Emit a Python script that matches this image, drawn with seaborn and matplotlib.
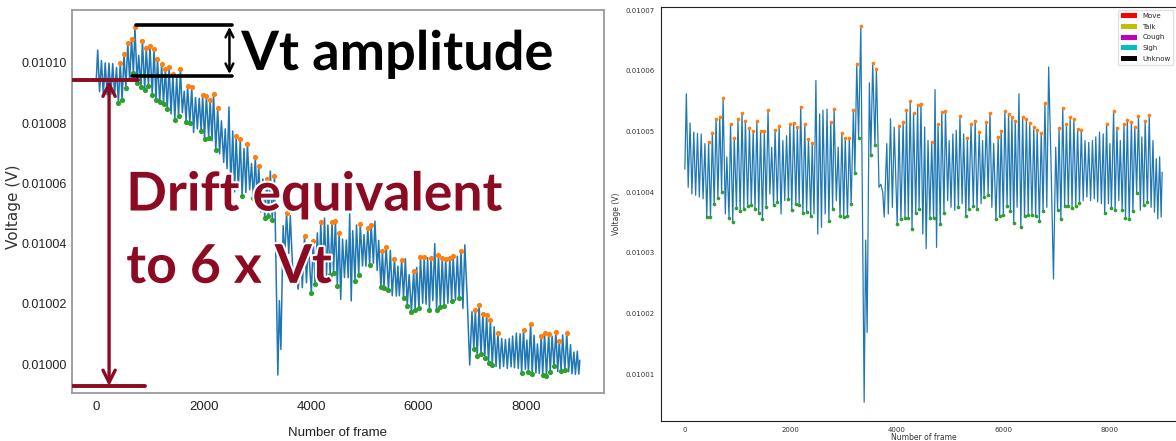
import numpy as np
import pandas as pd
import matplotlib
matplotlib.use("Agg")
import matplotlib.pyplot as plt
import matplotlib.patheffects as pe
from matplotlib.patches import Patch
from matplotlib.ticker import MultipleLocator, FormatStrFormatter
import seaborn as sns

# Turning points of the breathing trace (frame index of each local max / min)
frames = [
    0, 28, 63, 98, 133, 168, 203, 238, 273, 308, 343, 378, 413, 448, 483, 518, 553, 588, 623, 658,
    693, 721, 763, 791, 833, 861, 903, 931, 973, 1001, 1043, 1078, 1113, 1141, 1183, 1218, 1253, 1288, 1323, 1358,
    1393, 1428, 1463, 1498, 1533, 1568, 1603, 1638, 1673, 1701, 1743, 1778, 1813, 1848, 1883, 1918, 1953, 1981, 2016, 2051,
    2093, 2121, 2156, 2184, 2226, 2261, 2296, 2331, 2373, 2401, 2436, 2471, 2506, 2541, 2576, 2604, 2646, 2681, 2716, 2751,
    2786, 2814, 2856, 2891, 2926, 2961, 2996, 3024, 3066, 3101, 3136, 3178, 3206, 3241, 3276, 3318, 3381, 3409, 3437, 3479,
    3507, 3542, 3584, 3612, 3661, 3696, 3731, 3759, 3808, 3836, 3878, 3913, 3948, 4004, 4039, 4074, 4116, 4151, 4179, 4214,
    4249, 4284, 4312, 4354, 4389, 4417, 4452, 4487, 4522, 4550, 4585, 4620, 4655, 4690, 4718, 4746, 4774, 4816, 4844, 4886,
    4914, 4956, 4984, 5019, 5054, 5089, 5117, 5159, 5187, 5229, 5257, 5299, 5327, 5355, 5397, 5439, 5474, 5509, 5551, 5586,
    5614, 5642, 5684, 5719, 5754, 5789, 5824, 5866, 5908, 5936, 5964, 6006, 6034, 6076, 6104, 6139, 6167, 6202, 6230, 6265,
    6300, 6335, 6370, 6405, 6440, 6475, 6503, 6545, 6580, 6615, 6643, 6685, 6720, 6755, 6790, 6825, 6860, 6902, 6951, 6993,
    7028, 7056, 7091, 7126, 7161, 7196, 7231, 7266, 7301, 7336, 7371, 7406, 7441, 7476, 7511, 7546, 7581, 7616, 7651, 7686,
    7721, 7749, 7784, 7819, 7854, 7889, 7917, 7952, 7987, 8015, 8043, 8085, 8113, 8148, 8183, 8211, 8246, 8281, 8309, 8344,
    8379, 8421, 8449, 8484, 8519, 8554, 8589, 8617, 8652, 8680, 8722, 8757, 8792, 8827, 8855, 8890, 8918, 8953, 8981, 9000,
]

# Raw sensor voltage at those frames, in microvolts
raw_uv = [
    10093.8, 10104.3, 10090.5, 10100.8, 10089.6, 10100.0, 10089.4, 10099.9, 10089.5, 10099.8,
    10089.4, 10098.5, 10086.7, 10100.0, 10087.6, 10102.9, 10091.8, 10106.6, 10094.2, 10108.0,
    10096.5, 10111.8, 10093.2, 10102.5, 10092.0, 10107.3, 10091.1, 10105.0, 10092.4, 10105.5,
    10089.4, 10104.5, 10087.8, 10101.3, 10087.0, 10099.5, 10086.4, 10098.1, 10084.8, 10098.7,
    10083.1, 10096.2, 10081.2, 10095.3, 10082.4, 10097.9, 10083.5, 10090.6, 10080.5, 10092.2,
    10079.9, 10091.9, 10076.9, 10088.5, 10078.1, 10088.3, 10077.4, 10089.2, 10074.8, 10088.9,
    10075.2, 10087.7, 10074.1, 10089.6, 10071.1, 10085.0, 10069.8, 10080.8, 10067.0, 10078.1,
    10064.9, 10085.4, 10058.6, 10077.4, 10057.2, 10075.7, 10057.9, 10074.7, 10055.7, 10071.6,
    10057.0, 10073.2, 10057.9, 10066.6, 10055.1, 10068.8, 10053.9, 10065.7, 10050.5, 10061.5,
    10048.6, 10061.6, 10049.2, 10064.1, 10048.0, 10062.4, 9996.4, 10021.1, 10004.9, 10046.0,
    10034.2, 10050.2, 10036.8, 10049.3, 10029.8, 10030.3, 10029.0, 10024.9, 10037.0, 10025.4,
    10042.5, 10027.0, 10040.2, 10023.7, 10040.9, 10026.5, 10043.6, 10028.7, 10047.1, 10029.3,
    10048.5, 10027.2, 10046.2, 10029.6, 10047.3, 10030.3, 10047.6, 10026.1, 10043.7, 10021.5,
    10041.5, 10028.8, 10041.2, 10028.7, 10049.9, 10021.0, 10044.3, 10027.7, 10046.2, 10029.7,
    10046.6, 10032.6, 10043.0, 10032.5, 10045.1, 10033.0, 10046.2, 10033.5, 10047.5, 10031.1,
    10041.1, 10025.5, 10037.5, 10025.3, 10038.9, 10024.7, 10037.8, 10022.7, 10034.9, 10022.6,
    10032.5, 10022.7, 10034.5, 10022.1, 10035.0, 10019.3, 10029.7, 10017.3, 10030.9, 10018.0,
    10032.1, 10018.5, 10035.6, 10020.2, 10035.6, 10019.9, 10035.4, 10018.1, 10035.2, 10021.1,
    10040.0, 10018.1, 10036.4, 10019.0, 10035.1, 10019.2, 10034.9, 10020.2, 10035.2, 10021.0,
    10035.8, 10021.2, 10035.8, 10021.9, 10037.7, 10018.5, 10039.6, 10022.8, 9999.7, 10017.4,
    10005.1, 10018.1, 10002.6, 10019.8, 10003.3, 10016.6, 10002.2, 10016.3, 10000.4, 10014.6,
    9999.7, 10012.4, 9999.2, 10010.3, 9998.6, 10008.5, 9999.2, 10008.2, 9998.6, 10008.5,
    9999.1, 10009.3, 9998.8, 10010.3, 9998.6, 10010.1, 9997.0, 10011.5, 9998.3, 10008.0,
    9997.4, 10013.4, 9996.6, 10009.6, 9997.1, 10006.7, 9996.9, 10009.4, 9996.4, 10010.3,
    9996.2, 10010.1, 9997.4, 10009.3, 9999.5, 10010.6, 9997.5, 10007.6, 9997.6, 10009.7,
    9997.9, 10010.2, 9997.5, 10006.5, 9996.8, 10004.0, 9996.6, 10004.3, 9996.7, 10001.3,
]

# Same trace after baseline-drift removal, in microvolts
detrended_uv = [
    10043.8, 10056.2, 10040.8, 10051.4, 10039.7, 10049.9, 10039.5, 10049.7, 10039.2, 10049.6,
    10038.9, 10048.0, 10035.9, 10048.2, 10035.9, 10049.7, 10038.0, 10052.1, 10039.1, 10052.3,
    10040.1, 10055.5, 10036.4, 10045.8, 10035.8, 10051.3, 10035.1, 10049.0, 10037.4, 10052.0,
    10036.9, 10053.0, 10037.3, 10051.8, 10037.7, 10050.5, 10037.9, 10050.1, 10037.3, 10051.7,
    10036.5, 10050.0, 10035.5, 10050.0, 10037.5, 10053.5, 10039.7, 10047.4, 10037.9, 10050.2,
    10038.4, 10050.9, 10036.4, 10048.5, 10038.6, 10049.3, 10038.9, 10051.2, 10037.1, 10051.4,
    10038.0, 10050.7, 10037.9, 10054.1, 10036.6, 10051.2, 10036.8, 10048.8, 10036.0, 10048.1,
    10036.4, 10058.4, 10033.1, 10052.9, 10034.2, 10053.5, 10036.4, 10053.7, 10035.2, 10051.6,
    10037.3, 10053.7, 10038.6, 10047.4, 10036.0, 10049.8, 10035.9, 10049.0, 10036.0, 10049.0,
    10038.1, 10053.6, 10043.2, 10061.1, 10049.0, 10067.4, 10005.4, 10032.1, 10016.9, 10058.0,
    10046.2, 10061.2, 10047.8, 10060.3, 10040.8, 10041.3, 10040.0, 10035.9, 10048.0, 10036.4,
    10052.1, 10037.5, 10050.7, 10034.7, 10050.9, 10035.5, 10051.6, 10035.7, 10053.6, 10035.8,
    10055.0, 10033.9, 10053.0, 10036.6, 10054.3, 10037.3, 10054.6, 10033.1, 10050.7, 10030.7,
    10048.5, 10035.8, 10048.2, 10035.7, 10056.9, 10030.9, 10051.3, 10034.7, 10053.2, 10036.5,
    10053.4, 10038.6, 10048.5, 10037.5, 10049.6, 10037.0, 10050.2, 10037.5, 10052.5, 10038.1,
    10049.6, 10036.0, 10049.0, 10037.3, 10051.2, 10037.7, 10051.8, 10037.2, 10049.9, 10038.1,
    10048.5, 10039.2, 10051.5, 10039.6, 10053.0, 10037.5, 10048.0, 10035.5, 10049.1, 10036.0,
    10050.1, 10036.3, 10053.4, 10037.7, 10052.9, 10036.9, 10052.4, 10034.9, 10051.8, 10037.5,
    10056.2, 10034.2, 10052.4, 10036.0, 10052.1, 10036.2, 10051.4, 10036.2, 10050.7, 10036.0,
    10050.3, 10035.2, 10049.8, 10036.9, 10054.7, 10037.5, 10060.6, 10045.8, 10025.7, 10047.4,
    10037.1, 10050.6, 10035.6, 10053.8, 10037.8, 10051.2, 10037.7, 10052.3, 10037.4, 10052.1,
    10037.7, 10050.4, 10038.2, 10050.3, 10038.6, 10048.5, 10039.2, 10048.2, 10038.6, 10048.5,
    10038.9, 10049.1, 10038.4, 10049.9, 10038.1, 10049.6, 10036.5, 10051.3, 10038.1, 10048.0,
    10037.4, 10053.4, 10037.1, 10050.6, 10038.6, 10048.5, 10037.1, 10051.2, 10035.8, 10051.9,
    10035.5, 10051.6, 10036.9, 10050.8, 10039.9, 10052.6, 10037.0, 10049.1, 10037.9, 10051.7,
    10038.4, 10052.7, 10037.5, 10048.5, 10036.7, 10045.5, 10035.6, 10045.8, 10035.9, 10043.3,
]

# Detected inhalation peaks / exhalation troughs (frames) on the raw trace
raw_peak_frames = [
    448, 518, 588, 658, 721, 861, 931, 1001, 1078, 1141, 1218, 1288, 1358, 1428, 1568, 1701, 1778,
    1981, 2051, 2121, 2184, 2261, 2604, 2681, 2814, 2961, 3024, 3178, 3318, 3542, 3878, 4039, 4179,
    4389, 4452, 4522, 4914, 5054, 5117, 5327, 5397, 5551, 5684, 5908, 6034, 6104, 6230, 6370, 6440,
    6503, 6580, 6643, 6790, 7056, 7126, 7196, 7266, 7336, 7476, 7952, 8085, 8281, 8344, 8421, 8554,
    8617, 8757,
]
raw_trough_frames = [
    413, 483, 553, 693, 763, 833, 903, 973, 1043, 1113, 1183, 1253, 1323, 1463, 1533, 1673, 1743,
    1953, 2016, 2093, 2226, 2716, 2926, 3136, 3206, 3276, 4004, 4074, 4151, 4354, 4417, 4487, 4816,
    4886, 5089, 5299, 5355, 5439, 5719, 5789, 5866, 5936, 6006, 6202, 6335, 6405, 6475, 6615, 6755,
    7028, 7091, 7161, 7231, 7301, 7371, 7917, 8043, 8113, 8309, 8379, 8449, 8519, 8652, 8722,
]

# Detected peaks / troughs (frames) on the detrended trace
det_peak_frames = [
    448, 518, 588, 658, 721, 861, 931, 1001, 1078, 1141, 1218, 1288, 1358, 1428, 1498, 1568, 1701,
    1778, 1981, 2051, 2121, 2184, 2261, 2331, 2401, 2751, 2814, 2961, 3024, 3101, 3178, 3241, 3318,
    3542, 3612, 4039, 4116, 4179, 4249, 4312, 4389, 4452, 4655, 4774, 4844, 4914, 5187, 5327, 5397,
    5474, 5551, 5684, 5754, 5908, 5964, 6034, 6104, 6167, 6230, 6370, 6440, 6503, 6580, 6643, 6720,
    6790, 7056, 7126, 7196, 7266, 7336, 7406, 7476, 7952, 8085, 8148, 8281, 8344, 8421, 8484, 8554,
    8680, 8757,
]
det_trough_frames = [
    413, 483, 553, 623, 693, 833, 903, 973, 1043, 1113, 1183, 1253, 1323, 1393, 1463, 1533, 1673,
    1743, 1953, 2016, 2093, 2156, 2226, 2296, 2373, 2716, 2786, 2926, 2996, 3066, 3136, 3206, 3276,
    3507, 3584, 4004, 4074, 4151, 4214, 4284, 4354, 4417, 4620, 4690, 4816, 4886, 5159, 5299, 5355,
    5439, 5509, 5642, 5719, 5866, 5936, 6006, 6076, 6139, 6202, 6335, 6405, 6475, 6545, 6615, 6685,
    6755, 7028, 7091, 7161, 7231, 7301, 7371, 7441, 7917, 8043, 8113, 8246, 8309, 8379, 8449, 8519,
    8652, 8722,
]

event_labels = ["Move", "Talk", "Cough", "Sigh", "Unknow"]
event_colors = ["r", "y", "m", "c", "k"]

# Callout geometry on the raw panel (frames, volts)
VT_TOP, VT_BOTTOM = 0.0101125, 0.0100958
VT_TOP_SPAN, VT_BOTTOM_SPAN = (750, 2520), (670, 2520)
VT_ARROW_X = 2480
DRIFT_TOP, DRIFT_BOTTOM = 0.0100942, 0.0099927
DRIFT_TOP_SPAN, DRIFT_BOTTOM_SPAN = (-440, 770), (-440, 900)
DRIFT_ARROW_X = 240
MAROON = "#8c0b22"

sns.set_style("white")
plt.rcParams["font.family"] = ["DejaVu Sans"]
TICKFONT = ["Liberation Sans", "DejaVu Sans"]
BOLD = ["Lato", "DejaVu Sans"]

W, H = 1176, 441
fig = plt.figure(figsize=(W / 100, H / 100), dpi=100)
ax_raw = fig.add_axes([72 / W, (H - 393) / H, 532 / W, 383 / H])
ax_det = fig.add_axes([661 / W, (H - 421) / H, 525 / W, 414 / H])


def draw_trace(ax, values_uv, peaks, troughs, lw, size):
    df = pd.DataFrame({"frame": frames, "volt": np.asarray(values_uv) / 1e6})
    sns.lineplot(data=df, x="frame", y="volt", ax=ax, color="#1f77b4",
                 linewidth=lw, estimator=None, sort=False)
    pk = df[df["frame"].isin(peaks)]
    tr = df[df["frame"].isin(troughs)]
    sns.scatterplot(data=pk, x="frame", y="volt", ax=ax, color="#ff7f0e",
                    s=size, linewidth=0, zorder=3)
    sns.scatterplot(data=tr, x="frame", y="volt", ax=ax, color="#2ca02c",
                    s=size, linewidth=0, zorder=3)


# ---- left: raw trace with drift callouts ----
draw_trace(ax_raw, raw_uv, raw_peak_frames, raw_trough_frames, 1.1, 14)
ax_raw.set_xlim(ax_raw.get_xlim())
ax_raw.set_ylim(ax_raw.get_ylim())
ax_raw.xaxis.set_major_locator(MultipleLocator(2000))
ax_raw.yaxis.set_major_locator(MultipleLocator(0.00002))
ax_raw.yaxis.set_major_formatter(FormatStrFormatter("%.5f"))
for sp in ax_raw.spines.values():
    sp.set_color("#9a9a9a")
    sp.set_linewidth(1.3)
ax_raw.tick_params(length=2.5, width=1, color="#9a9a9a", labelsize=9,
                   labelcolor="#222222", pad=1.5)
ax_raw.tick_params(axis="x", pad=3.5)
for lab in ax_raw.get_xticklabels() + ax_raw.get_yticklabels():
    lab.set_family(TICKFONT)
    lab.set_fontsize(9.5 if lab in ax_raw.get_xticklabels() else 9)
ax_raw.set_xlabel("Number of frame", fontsize=9.5, family=TICKFONT, color="#222222")
ax_raw.set_ylabel("Voltage (V)", fontsize=11, color="#333333")
ax_raw.yaxis.set_label_coords(-0.096, 0.486)
ax_raw.xaxis.set_label_coords(0.5, -0.088)

ax_raw.plot(VT_TOP_SPAN, [VT_TOP] * 2, color="black", lw=2.6, scalex=False, scaley=False, zorder=5)
ax_raw.plot(VT_BOTTOM_SPAN, [VT_BOTTOM] * 2, color="black", lw=2.6, scalex=False, scaley=False, zorder=5)
ax_raw.annotate("", xy=(VT_ARROW_X, VT_TOP - 0.0000005), xytext=(VT_ARROW_X, VT_BOTTOM + 0.0000005),
                arrowprops=dict(arrowstyle="<->", color="black", lw=1.8,
                                mutation_scale=14, shrinkA=0, shrinkB=0), zorder=5)
ax_raw.plot(DRIFT_TOP_SPAN, [DRIFT_TOP] * 2, color=MAROON, lw=2.8, scalex=False, scaley=False, zorder=5)
ax_raw.plot(DRIFT_BOTTOM_SPAN, [DRIFT_BOTTOM] * 2, color=MAROON, lw=2.8, scalex=False, scaley=False, zorder=5)
ax_raw.annotate("", xy=(DRIFT_ARROW_X, DRIFT_TOP), xytext=(DRIFT_ARROW_X, DRIFT_BOTTOM),
                arrowprops=dict(arrowstyle="<->", color=MAROON, lw=2.4,
                                mutation_scale=22, shrinkA=0, shrinkB=0), zorder=5)

halo = [pe.withStroke(linewidth=3, foreground="white")]
ax_raw.text(2700, 0.0100977, "Vt amplitude", fontsize=39, fontweight="bold", family=BOLD,
            color="black", va="baseline", ha="left", path_effects=halo, zorder=6)
ax_raw.text(560, 0.0100510, "Drift equivalent", fontsize=38.5, fontweight="bold", family=BOLD,
            color=MAROON, va="baseline", ha="left", path_effects=halo, zorder=6)
ax_raw.text(560, 0.0100270, "to 6 x Vt", fontsize=38.5, fontweight="bold", family=BOLD,
            color=MAROON, va="baseline", ha="left", path_effects=halo, zorder=6)

# ---- right: detrended trace ----
draw_trace(ax_det, detrended_uv, det_peak_frames, det_trough_frames, 0.9, 7)
ax_det.xaxis.set_major_locator(MultipleLocator(2000))
ax_det.yaxis.set_major_locator(MultipleLocator(0.00001))
ax_det.yaxis.set_major_formatter(FormatStrFormatter("%.5f"))
for sp in ax_det.spines.values():
    sp.set_color("#222222")
    sp.set_linewidth(0.8)
ax_det.tick_params(length=2.5, width=0.6, labelsize=5, labelcolor="#333333", pad=2)
ax_det.tick_params(axis="x", pad=1.5)
ax_det.set_xlabel("Number of frame", fontsize=5.5, color="#333333", labelpad=0.3)
ax_det.set_ylabel("Voltage (V)", fontsize=5.5, color="#333333", labelpad=3)

handles = [Patch(facecolor=c, edgecolor="none") for c in event_colors]
ax_det.legend(handles, event_labels, loc="upper left", fontsize=5,
              bbox_to_anchor=(1118 / W, 1 - 10 / H), bbox_transform=fig.transFigure,
              borderaxespad=0, handlelength=2.3, handleheight=0.7, labelspacing=0.7,
              frameon=True, fancybox=True, edgecolor="#dddddd", framealpha=0.9)

fig.savefig("out.png", dpi=100)
